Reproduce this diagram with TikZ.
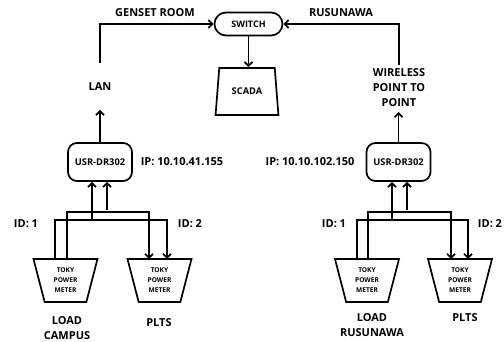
\documentclass[tikz,border=0pt]{standalone}
\usepackage{fontspec}
\setmainfont{Open Sans}
\usetikzlibrary{arrows.meta,shapes.geometric}
\begin{document}
\begin{tikzpicture}[x=1pt,y=-1pt,
  line width=1.7pt,
  arr/.style={-{Straight Barb[length=4pt,width=8pt]}},
  lbl/.style={font=\fontsize{11}{15}\selectfont\bfseries, align=center, inner sep=0pt},
  usrbox/.style={draw, rounded corners=9pt, minimum width=64pt, minimum height=38pt, inner sep=0pt, font=\fontsize{9.3}{10}\selectfont\bfseries},
  switchbox/.style={draw, rounded corners=11.5pt, minimum width=68pt, minimum height=23pt, inner sep=0pt, font=\fontsize{9}{10}\selectfont\bfseries},
  scadabox/.style={draw, trapezium, trapezium stretches=true, trapezium angle=73.4, minimum width=63pt, minimum height=47pt, inner sep=0pt, font=\fontsize{9.3}{10}\selectfont\bfseries},
  meterbox/.style={draw, trapezium, shape border rotate=180, trapezium stretches=true, trapezium angle=75.6, minimum width=64pt, minimum height=43pt, inner sep=0pt, align=center, font=\fontsize{6.6}{10}\selectfont\bfseries}
]
\useasboundingbox (0,0) rectangle (504,342);

% central
\node[switchbox] (switch) at (248.5,24) {SWITCH};
\node[scadabox] (scada) at (247,91.5) {SCADA};
\draw[arr] (switch.south) -- (switch.south |- scada.north);

\node[lbl] (genset) at (155,13) {GENSET ROOM};
\node[lbl] (rusun) at (341,13) {RUSUNAWA};

% left side
\node[lbl] (lan) at (100,87) {LAN};
\node[usrbox] (usrL) at (100,162) {USR-DR302};
\node[lbl] (ipL) at (182,162) {IP: 10.10.41.155};
\coordinate (lanT) at (100,63);
\coordinate (lanB) at (100,110);
\draw[arr] (lanT) |- (switch.west);
\draw[arr] (usrL.north) -- (lanB);

\node[meterbox] (m1) at (65.5,280.5) {TOKY\\POWER\\METER};
\node[meterbox] (m2) at (159.5,280.5) {TOKY\\POWER\\METER};
\node[lbl] (id1L) at (26,224) {ID: 1};
\node[lbl] (id2L) at (190,224) {ID: 2};
\node[lbl] (loadC) at (67,328.5) {LOAD\\CAMPUS};
\node[lbl] (pltsL) at (159,323) {PLTS};

\coordinate (m1a) at (55,259);
\coordinate (m1b) at (67,259);
\coordinate (m2a) at (149,259);
\coordinate (m2b) at (167,259);
\coordinate (busL) at (92,220);
\coordinate (busLu) at (107,212);
\draw[arr] (m1a) |- (busL) -| (m2b);
\draw[arr] (m1b) |- (busLu) -| (m2a);
\draw[arr] (busL) -- (busL |- usrL.south);
\draw[arr] ([yshift=2pt]busLu) -- (busLu |- usrL.south);

% right side
\node[lbl] (wless) at (399,88) {WIRELESS\\POINT TO\\POINT};
\node[usrbox] (usrR) at (398.5,162) {USR-DR302};
\node[lbl] (ipR) at (310,162) {IP: 10.10.102.150};
\coordinate (wT) at (399,65);
\coordinate (wB) at (398.5,112);
\draw[arr] (wT) |- (switch.east);
\draw[arr] (usrR.north) -- (wB);

\node[meterbox] (m3) at (367,280.5) {TOKY\\POWER\\METER};
\node[meterbox] (m4) at (460,280.5) {TOKY\\POWER\\METER};
\node[lbl] (id1R) at (334,224) {ID: 1};
\node[lbl] (id2R) at (490,224) {ID: 2};
\node[lbl] (loadR) at (372,325.5) {LOAD\\RUSUNAWA};
\node[lbl] (pltsR) at (465,318) {PLTS};

\coordinate (m3a) at (357,259);
\coordinate (m3b) at (368,259);
\coordinate (m4a) at (451,259);
\coordinate (m4b) at (468,259);
\coordinate (busR) at (392,220);
\coordinate (busRu) at (407,212);
\draw[arr] (m3a) |- (busR) -| (m4b);
\draw[arr] (m3b) |- (busRu) -| (m4a);
\draw[arr] (busR) -- (busR |- usrR.south);
\draw[arr] ([yshift=2pt]busRu) -- (busRu |- usrR.south);
\end{tikzpicture}
\end{document}
